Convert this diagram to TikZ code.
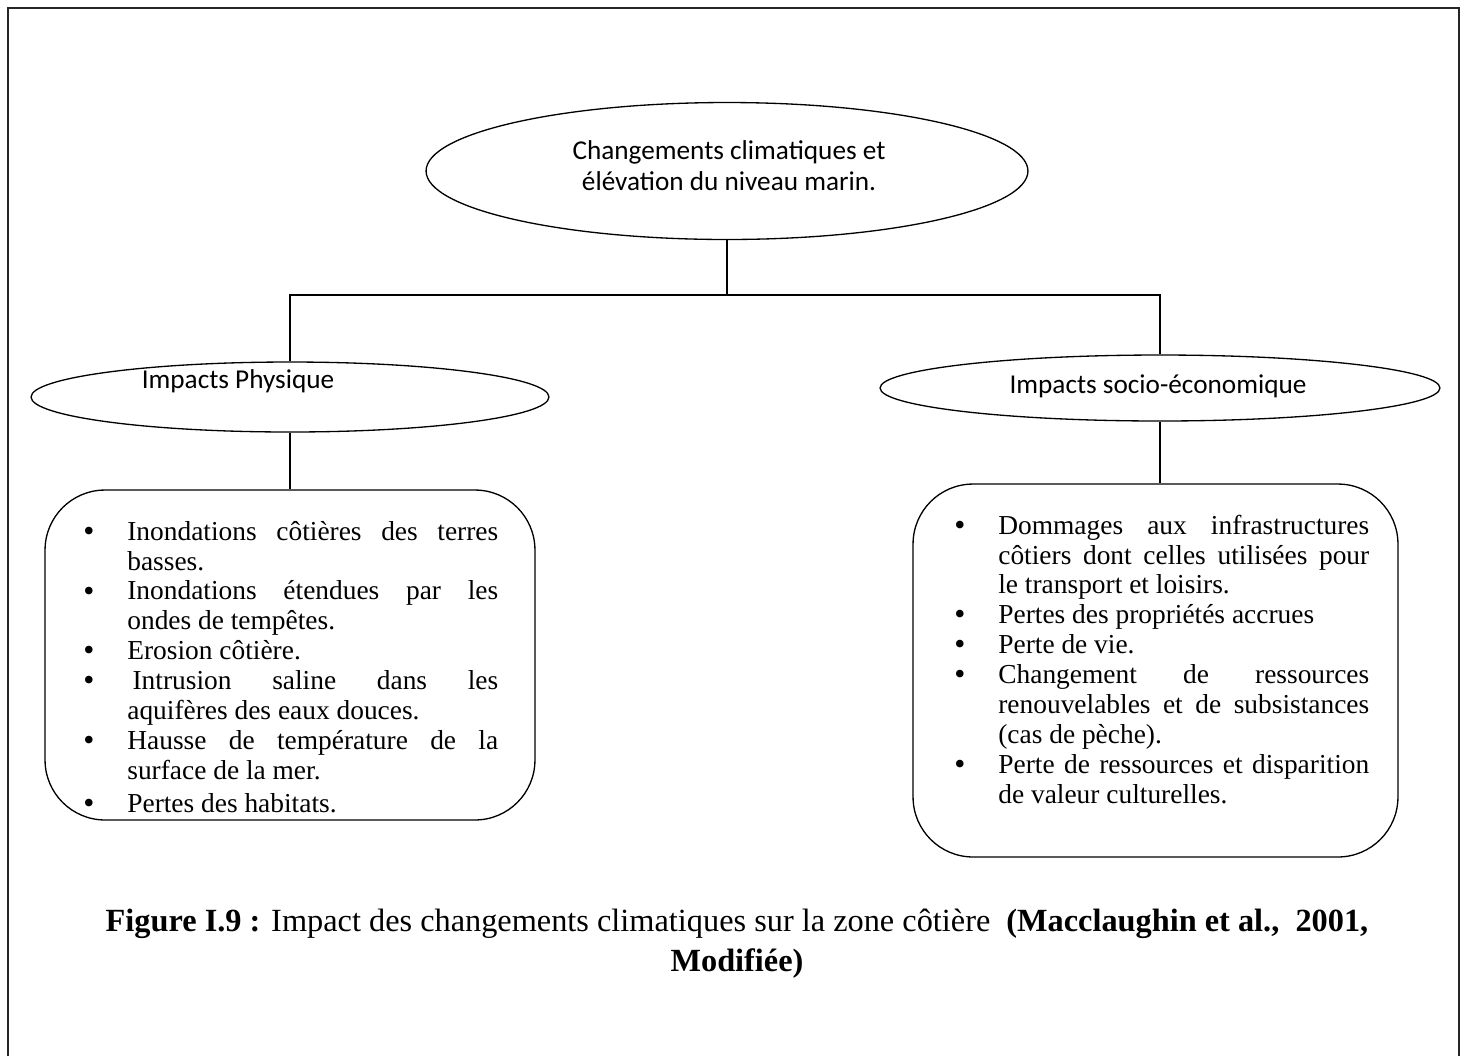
\documentclass[tikz,border=0pt]{standalone}
\usepackage{fontspec}
\setmainfont{Liberation Serif}
\newfontfamily\calibri{Carlito}
\usetikzlibrary{shapes.geometric}

% bullet list used in the two boxes
\newcommand{\grospoint}{\makebox[0pt][r]{\raisebox{-0.6pt}[0pt][0pt]{\fontsize{18}{18}\selectfont\textbullet}}}
\newenvironment{puces}{\hyphenpenalty=10000
  \begin{list}{\grospoint}{\setlength{\leftmargin}{0.9cm}\setlength{\labelsep}{0.66cm}%
    \setlength{\labelwidth}{0pt}\setlength{\itemsep}{0pt}\setlength{\parsep}{0pt}%
    \setlength{\topsep}{0pt}\setlength{\partopsep}{0pt}}}{\end{list}}

\begin{document}
\begin{tikzpicture}[x=0.02cm,y=-0.02cm,
  bulle/.style={draw,ellipse,line width=0.75pt,inner sep=0pt},
  cadre/.style={draw,rounded corners=1.2cm,line width=0.75pt,inner sep=0pt},
  liste/.style={anchor=north west,inner sep=0pt,text width=8.32cm,align=justify,font=\fontsize{15.6}{17}\selectfont},
  titre/.style={font=\calibri\fontsize{15.5}{17.5}\selectfont,inner sep=0pt},
  lien/.style={line width=0.8pt}]
\useasboundingbox (0,0) rectangle (1467,1056);
% the frame, open at the bottom
\draw[line width=1.2pt,black!85] (8,1056) -- (8,8) -- (1459,8) -- (1459,1056);
% the ellipses
\node[bulle,minimum width=12.04cm,minimum height=2.74cm] (cc) at (727,171) {};
\node[titre,align=center] (cclbl) at (729,166) {Changements climatiques et\\élévation du niveau marin.};
\node[bulle,minimum width=10.36cm,minimum height=1.4cm] (phys) at (290,397) {};
\node[titre] (physlbl) at (238,381) {Impacts Physique};
\node[bulle,minimum width=11.2cm,minimum height=1.32cm] (socio) at (1160,388) {};
\node[titre] (sociolbl) at (1158,386) {Impacts socio-économique};
% the rounded boxes
\node[cadre,minimum width=9.8cm,minimum height=6.6cm] (physbox) at (290,655) {};
\node[cadre,minimum width=9.7cm,minimum height=7.46cm] (sociobox) at (1155.5,670.5) {};
% the lists
\node[liste] (physlist) at (82,510) {\begin{puces}
\item Inondations côtières des terres\linebreak basses.
\item Inondations étendues par les\linebreak ondes de tempêtes.
\item Erosion côtière.
\item \hspace{3pt}Intrusion saline dans les\linebreak aquifères des eaux douces.
\item Hausse de température de la\linebreak surface de la mer.\vspace{2pt}
\item Pertes des habitats.
\end{puces}};
\node[liste] (sociolist) at (953,504) {\begin{puces}
\item Dommages aux infrastructures\linebreak côtiers dont celles utilisées pour\linebreak le transport et loisirs.
\item Pertes des propriétés accrues
\item Perte de vie.
\item Changement de ressources\linebreak renouvelables et de subsistances\linebreak (cas de pèche).
\item Perte de ressources et disparition\linebreak de valeur culturelles.
\end{puces}};
% the connectors
\draw[lien] (cc.south) -- ++(0,55) coordinate (fork);
\draw[lien] (phys.north) |- (fork) -| (socio.north);
\draw[lien] (phys.south) -- (physbox.north);
\draw[lien] (socio.south) -- (socio.south |- sociobox.north);
% the caption
\node[font=\fontsize{18.4}{22.7}\selectfont,align=center,inner sep=0pt] (legende) at (737,944)
  {\textbf{Figure I.9 :} Impact des changements climatiques sur la zone côtière~ \textbf{(Macclaughin et al.,~ 2001,}\\\textbf{Modifiée)}};
\end{tikzpicture}
\end{document}
